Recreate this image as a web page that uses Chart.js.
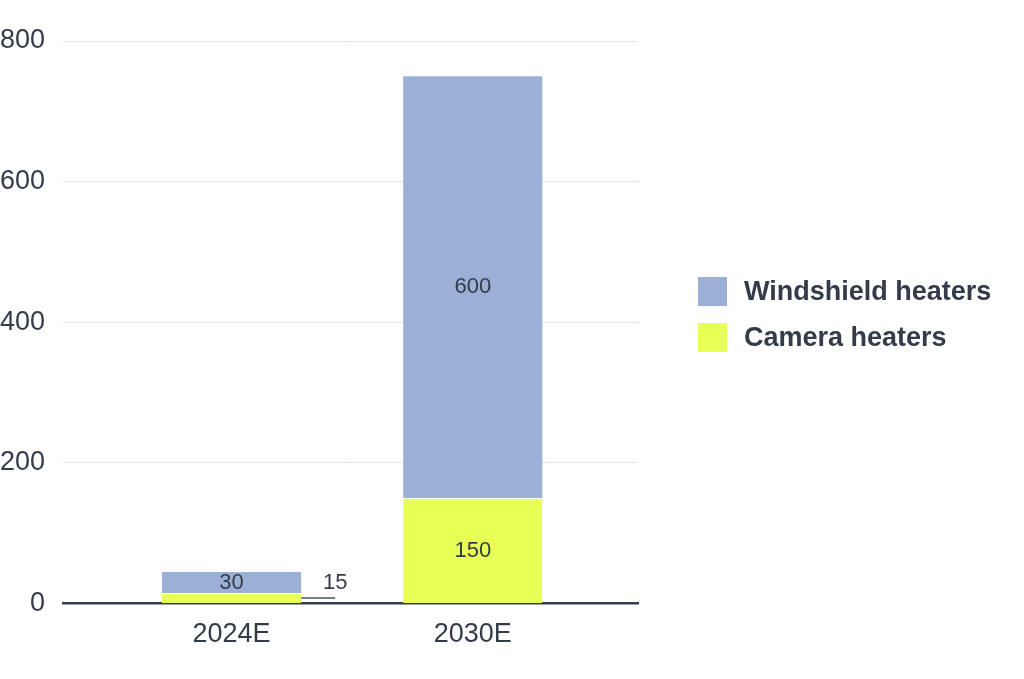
<!DOCTYPE html>
<html>
<head>
<meta charset="utf-8">
<script src="https://cdn.jsdelivr.net/npm/chart.js@4"></script>
<style>
  html, body { margin: 0; padding: 0; background: #fff; }
  #wrap { position: relative; width: 1024px; height: 679px; }
  #legend {
    position: absolute; left: 698px; top: 277px;
    margin: 0; padding: 0; list-style: none;
    font-family: 'Liberation Sans', Arial, sans-serif;
    font-size: 27px; font-weight: bold; color: #343c4a;
  }
  #legend li { display: flex; align-items: center; height: 29px; margin-bottom: 17px; white-space: nowrap; }
  #legend .box { width: 29px; height: 29px; margin-right: 17px; flex: none; }
</style>
</head>
<body>
<div id="wrap">
  <canvas id="heaterChart"></canvas>
  <ul id="legend"></ul>
</div>
<script>
// --- Data ---
const categories = ['2024E', '2030E'];
const cameraHeaters = [15, 150];
const windshieldHeaters = [30, 600];
const yTicks = [0, 200, 400, 600, 800];

const COLORS = {
    windshield: '#9cb0d7',
    camera: '#e8ff55',
    text: '#343c4a',
    grid: '#dfe2e8',
    axis: '#343e4e'
};

const FONT = "'Liberation Sans', Arial, sans-serif";

// value labels, small segments get a leader line to the right
const valueLabels = {
    id: 'valueLabels',
    afterDatasetsDraw(chart) {
        const ctx = chart.ctx;
        ctx.save();
        ctx.font = '22px ' + FONT;
        ctx.fillStyle = COLORS.text;
        ctx.textAlign = 'center';
        ctx.textBaseline = 'middle';
        chart.data.datasets.forEach((ds, di) => {
            const meta = chart.getDatasetMeta(di);
            meta.data.forEach((bar, i) => {
                const h = Math.abs(bar.base - bar.y);
                const cy = (bar.y + bar.base) / 2;
                const text = String(ds.data[i].y);
                if (h < 15) {
                    const x0 = bar.x + bar.width / 2;
                    ctx.strokeStyle = '#4a5260';
                    ctx.lineWidth = 1.5;
                    ctx.beginPath();
                    ctx.moveTo(x0, cy);
                    ctx.lineTo(x0 + 34, cy);
                    ctx.stroke();
                    ctx.fillText(text, x0 + 34, cy - 15);
                } else {
                    ctx.fillText(text, bar.x, cy);
                }
            });
        });
        ctx.restore();
    }
};

// html legend, windshield listed first
const htmlLegend = {
    id: 'htmlLegend',
    afterUpdate(chart) {
        const ul = document.getElementById('legend');
        ul.innerHTML = '';
        const items = chart.data.datasets.map(ds => ({ label: ds.label, color: ds.backgroundColor })).reverse();
        items.forEach(item => {
            const li = document.createElement('li');
            const box = document.createElement('span');
            box.className = 'box';
            box.style.background = item.color;
            li.appendChild(box);
            li.appendChild(document.createTextNode(item.label));
            ul.appendChild(li);
        });
    }
};

const ctx = document.getElementById('heaterChart').getContext('2d');
new Chart(ctx, {
    type: 'bar',
    data: {
        datasets: [
            {
                label: 'Camera heaters',
                data: cameraHeaters.map((v, i) => ({ x: i, y: v })),
                backgroundColor: COLORS.camera,
                borderColor: '#ffffff',
                borderWidth: { top: 1, left: 0, right: 0, bottom: 0 },
                borderSkipped: false
            },
            {
                label: 'Windshield heaters',
                data: windshieldHeaters.map((v, i) => ({ x: i, y: v })),
                backgroundColor: COLORS.windshield,
                borderWidth: 0
            }
        ]
    },
    options: {
        responsive: true,
        maintainAspectRatio: false,
        animation: false,
        categoryPercentage: 1,
        barPercentage: 0.577,
        layout: {
            padding: { top: 41, right: 386, bottom: 21, left: 0 }
        },
        scales: {
            x: {
                type: 'linear',
                stacked: true,
                offset: false,
                bounds: 'data',
                min: -0.699,
                max: 1.685,
                afterBuildTicks: (scale) => {
                    scale.ticks = categories.map((c, i) => ({ value: i }));
                },
                ticks: {
                    callback: (v) => categories[v],
                    color: COLORS.text,
                    font: { family: FONT, size: 27 },
                    padding: 7,
                    autoSkip: false,
                    maxRotation: 0
                },
                grid: { display: false },
                border: { display: true, color: COLORS.axis, width: 2.5 }
            },
            y: {
                stacked: true,
                min: 0,
                max: 800,
                afterBuildTicks: (scale) => {
                    scale.ticks = yTicks.map(v => ({ value: v }));
                },
                afterFit: (scale) => { scale.width = 63; },
                ticks: {
                    color: COLORS.text,
                    font: { family: FONT, size: 27 },
                    padding: 18
                },
                grid: { color: COLORS.grid, lineWidth: 1, drawTicks: false },
                border: { display: false }
            }
        },
        plugins: {
            legend: { display: false },
            tooltip: { enabled: false }
        }
    },
    plugins: [valueLabels, htmlLegend]
});
</script>
</body>
</html>
